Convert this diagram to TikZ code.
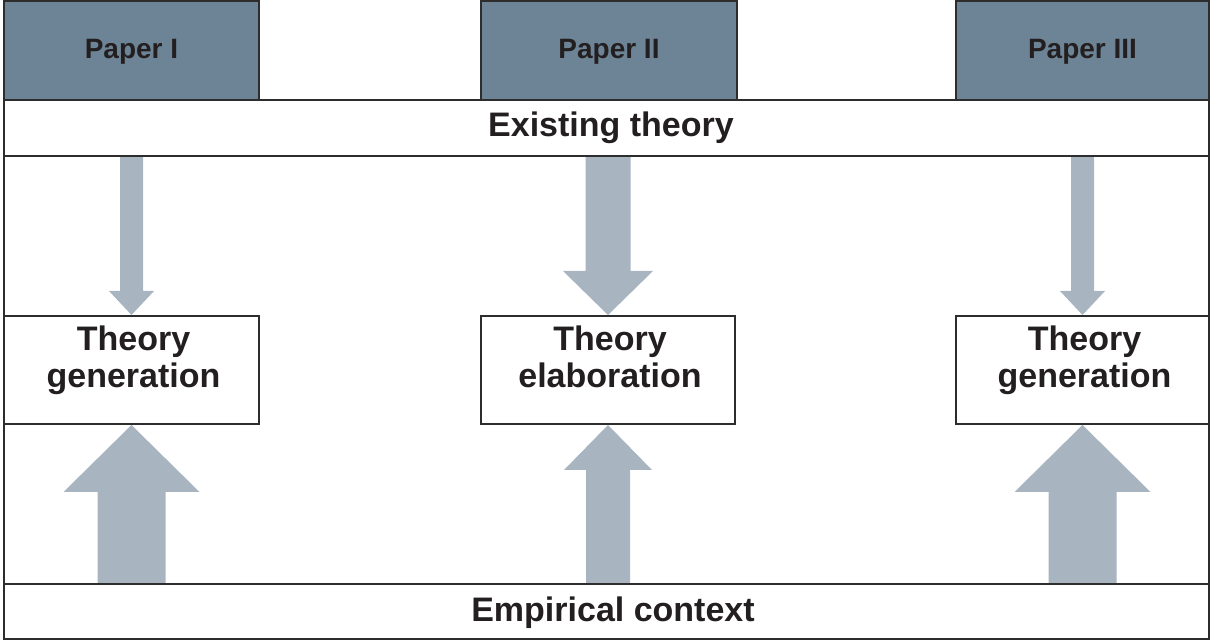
\documentclass[tikz,border=0pt]{standalone}
\usepackage{fontspec}
\setmainfont{Liberation Sans}
\usetikzlibrary{calc}
\pgfdeclarelayer{background}
\pgfsetlayers{background,main}

\definecolor{paperfill}{RGB}{109,132,150}
\definecolor{arrowc}{RGB}{168,181,193}
\definecolor{linec}{RGB}{45,45,45}
\definecolor{textc}{RGB}{35,31,32}

% vertical block arrow: start, tip, shaft half width, head half width, head length
\newcommand\blockarrow[5]{%
  \fill[arrowc] let \p1=#1, \p2=#2, \n1={ifthenelse(\y2>\y1,1,-1)} in
    (\x1-#3,\y1) -- (\x1-#3,\y2-\n1*#5) -- (\x1-#4,\y2-\n1*#5) -- (\x2,\y2)
    -- (\x1+#4,\y2-\n1*#5) -- (\x1+#3,\y2-\n1*#5) -- (\x1+#3,\y1) -- cycle;}

\tikzset{
  frame/.style={draw=linec, line width=1pt},
  paperbox/.style={frame, fill=paperfill, inner sep=0pt, minimum height=49.5pt},
  papertext/.style={anchor=base, inner sep=0pt, text=textc,
    font=\fontsize{14}{16}\selectfont\bfseries},
  band/.style={frame, fill=white, inner sep=0pt, minimum width=602.5pt},
  bandtext/.style={anchor=base, inner sep=0pt, text=textc,
    font=\fontsize{17}{20}\selectfont\bfseries},
  stagebox/.style={frame, fill=white, inner sep=0pt, minimum height=54pt},
  stagetext/.style={anchor=base, text=textc, align=center, inner sep=0pt,
    font=\fontsize{17}{18.5}\selectfont\bfseries}
}

\begin{document}
\begin{tikzpicture}[x=0.5pt, y=-0.5pt]
\useasboundingbox (0,0) rectangle (1212,641);

% outer frame
\draw[frame] (4,100) rectangle (1209,639);

% papers
\node[paperbox, minimum width=127.5pt] (p1) at (131.5,50.5) {};
\node[paperbox, minimum width=128pt]   (p2) at (609,50.5)   {};
\node[paperbox, minimum width=126.5pt] (p3) at (1082.5,50.5) {};
\node[papertext] (p1t) at (131.5,59)  {Paper I};
\node[papertext] (p2t) at (609,59)    {Paper II};
\node[papertext] (p3t) at (1082.5,59) {Paper III};

% theory and empirical bands
\node[band, minimum height=28pt]   (et) at (606.5,128)   {};
\node[band, minimum height=27.5pt] (ec) at (606.5,611.5) {};
\node[bandtext] (ett) at (611,137) {Existing theory};
\node[bandtext] (ect) at (613,622) {Empirical context};

% stage boxes
\node[stagebox, minimum width=127.5pt] (s1) at (131.5,370)  {};
\node[stagebox, minimum width=127pt]   (s2) at (608,370)    {};
\node[stagebox, minimum width=126.5pt] (s3) at (1082.5,370) {};
\node[stagetext] (s1t) at (133.5,388)  {Theory\\generation};
\node[stagetext] (s2t) at (610,388)    {Theory\\elaboration};
\node[stagetext] (s3t) at (1084.5,388) {Theory\\generation};

% block arrows
\begin{pgfonlayer}{background}
  \blockarrow{(s1.north |- et.south)}{(s1.north)}{5.75pt}{11.25pt}{12pt}
  \blockarrow{(s2.north |- et.south)}{(s2.north)}{11.25pt}{22.5pt}{22pt}
  \blockarrow{(s3.north |- et.south)}{(s3.north)}{5.75pt}{11.25pt}{12pt}
  \blockarrow{(s1.south |- ec.north)}{(s1.south)}{17pt}{34pt}{33.5pt}
  \blockarrow{(s2.south |- ec.north)}{(s2.south)}{11pt}{22pt}{22.5pt}
  \blockarrow{(s3.south |- ec.north)}{(s3.south)}{17pt}{34pt}{33.5pt}
\end{pgfonlayer}
\end{tikzpicture}
\end{document}
